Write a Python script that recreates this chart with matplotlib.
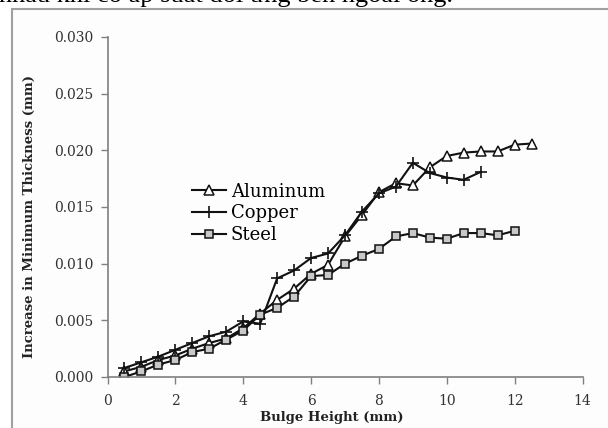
import numpy as np
import matplotlib.pyplot as plt
from matplotlib.patches import Rectangle
plt.rcParams['font.family'] = 'DejaVu Serif'

height = [0.5, 1.0, 1.5, 2.0, 2.5, 3.0, 3.5, 4.0, 4.5, 5.0, 5.5, 6.0, 6.5,
          7.0, 7.5, 8.0, 8.5, 9.0, 9.5, 10.0, 10.5, 11.0, 11.5, 12.0, 12.5]

aluminum = [0.0005, 0.0009, 0.0015, 0.0019, 0.0025, 0.0030, 0.0034, 0.0043,
            0.0056, 0.0068, 0.0078, 0.0091, 0.0099, 0.0124, 0.0143, 0.0163,
            0.0171, 0.0169, 0.0185, 0.0195, 0.0198, 0.0199, 0.0199, 0.0205, 0.0206]
copper = [0.0008, 0.0013, 0.0018, 0.0024, 0.0030, 0.0036, 0.0040, 0.0049,
          0.0047, 0.0087, 0.0094, 0.0105, 0.0109, 0.0125, 0.0146, 0.0162,
          0.0168, 0.0189, 0.0180, 0.0176, 0.0174, 0.0181]
steel = [0.0000, 0.0005, 0.0011, 0.0015, 0.0022, 0.0025, 0.0033, 0.0041,
         0.0055, 0.0061, 0.0071, 0.0089, 0.0090, 0.0100, 0.0107, 0.0113,
         0.0124, 0.0127, 0.0123, 0.0122, 0.0127, 0.0127, 0.0125, 0.0129]

fig = plt.figure(figsize=(6.08, 4.28), dpi=100)
fig.patch.set_facecolor('white')

# grey frame of the pasted picture, kept behind the axes
fig.patches.append(Rectangle((12 / 608, -0.1), 1.2, 1 - 9 / 428 + 0.1,
                             transform=fig.transFigure, facecolor='#fdfdfd',
                             edgecolor='#a0a0a0', linewidth=1.5, zorder=-5))

# cut-off line of text above the picture
fig.text(-0.002, 1 - 2 / 428, "nhau khi có áp suất đối ứng bên ngoài ống.",
         fontsize=19, va='baseline', ha='left', color='black',
         family='Liberation Serif')

ax = fig.add_axes([107.5 / 608, 51 / 428, 475 / 608, 340 / 428])
ax.set_facecolor('none')

ax.plot(height[:len(aluminum)], aluminum, color='#111111', lw=1.5,
        marker='^', ms=6.5, mfc='white', mec='#111111', mew=1.1, label='Aluminum')
ax.plot(height[:len(copper)], copper, color='#111111', lw=1.5,
        marker='+', ms=8, mew=1.2, label='Copper')
ax.plot(height[:len(steel)], steel, color='#111111', lw=1.5,
        marker='s', ms=5.5, mfc='#c8c8c8', mec='#111111', mew=1.1, label='Steel')

ax.set_xlim(0, 14)
ax.set_ylim(0, 0.030)
ax.set_xticks(np.arange(0, 15, 2))
ax.set_yticks(np.arange(0, 0.0301, 0.005))
ax.set_yticklabels(['%.3f' % v for v in np.arange(0, 0.0301, 0.005)])
ax.spines['top'].set_visible(False)
ax.spines['right'].set_visible(False)
for s in ['left', 'bottom']:
    ax.spines[s].set_color('#808080')
    ax.spines[s].set_linewidth(1.2)
ax.tick_params(direction='out', length=5, width=1, color='#808080',
               labelsize=10, labelcolor='#333333', pad=5)
ax.tick_params(axis='x', pad=7)

fig.text(332 / 608, 1 - 418 / 428, 'Bulge Height (mm)', fontsize=9.5,
         fontweight='bold', ha='center', va='center', color='#222222')
fig.text(29 / 608, 1 - 217 / 428, 'Increase in Minimum Thickness (mm)',
         fontsize=9.5, fontweight='bold', rotation=90, ha='center',
         va='center', color='#222222')

ax.legend(loc='upper left', bbox_to_anchor=(0.163, 0.593), frameon=False,
          fontsize=13, handlelength=1.9, handletextpad=0.25, labelspacing=0.2,
          borderaxespad=0)

fig.savefig('out.png', dpi=100)
